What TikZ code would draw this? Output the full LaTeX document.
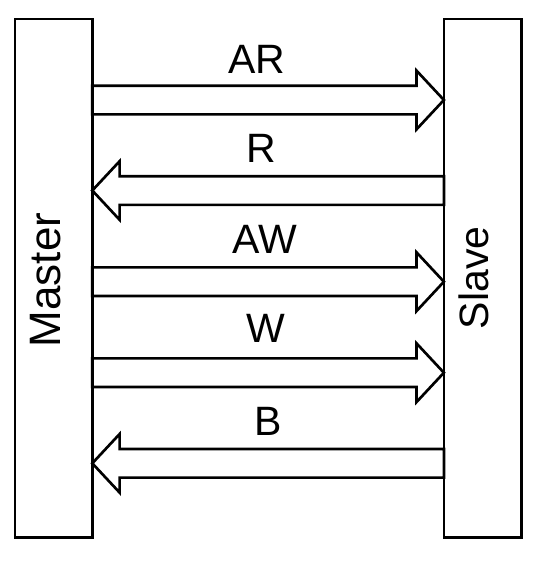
\documentclass[tikz,border=0pt]{standalone}
\usepackage{fontspec}
\setmainfont{Liberation Sans}
\usetikzlibrary{shapes.arrows, positioning}
\tikzset{unit/.style={draw,line width=2pt,minimum width=58pt,minimum height=388.7pt,outer sep=0pt},
         bus/.style={single arrow,draw,line width=2pt,minimum height=263.8pt,minimum width=42pt,
                     single arrow head extend=11.25pt,single arrow tip angle=94,
                     inner xsep=0pt,inner ysep=9.75pt,outer sep=0pt,anchor=tail},
         busback/.style={bus,shape border rotate=180},
         sig/.style={inner sep=0pt,font=\fontsize{30.75}{36}\selectfont},
         side/.style={rotate=90,inner sep=0pt,font=\fontsize{33}{40}\selectfont},
        }
\begin{document}
\begin{tikzpicture}[x=0.75pt,y=-0.75pt]
        \useasboundingbox (0,0) rectangle (538,562);
        \node[unit](master)at(53.5,278.2){};
        \node[unit](slave)at(482.7,278.2){};
        \node[side](mname)at(45.5,280){Master};
        \node[side,font=\fontsize{30.75}{36}\selectfont](sname)at(474,277.8){Slave};

        \node[bus](ar)at(master.east|-0,100){};
        \node[busback](r)at(slave.west|-0,190.5){};
        \node[bus](aw)at(master.east|-0,281.7){};
        \node[bus](w)at(master.east|-0,372.7){};
        \node[busback](b)at(slave.west|-0,463.3){};

        \node[sig](arlbl)at(256.7,59.7){AR};
        \node[sig](rlbl)at(261.3,148){R};
        \node[sig](awlbl)at(265,239.5){AW};
        \node[sig](wlbl)at(266,328.7){W};
        \node[sig](blbl)at(268,421.7){B};
    \end{tikzpicture}
\end{document}
